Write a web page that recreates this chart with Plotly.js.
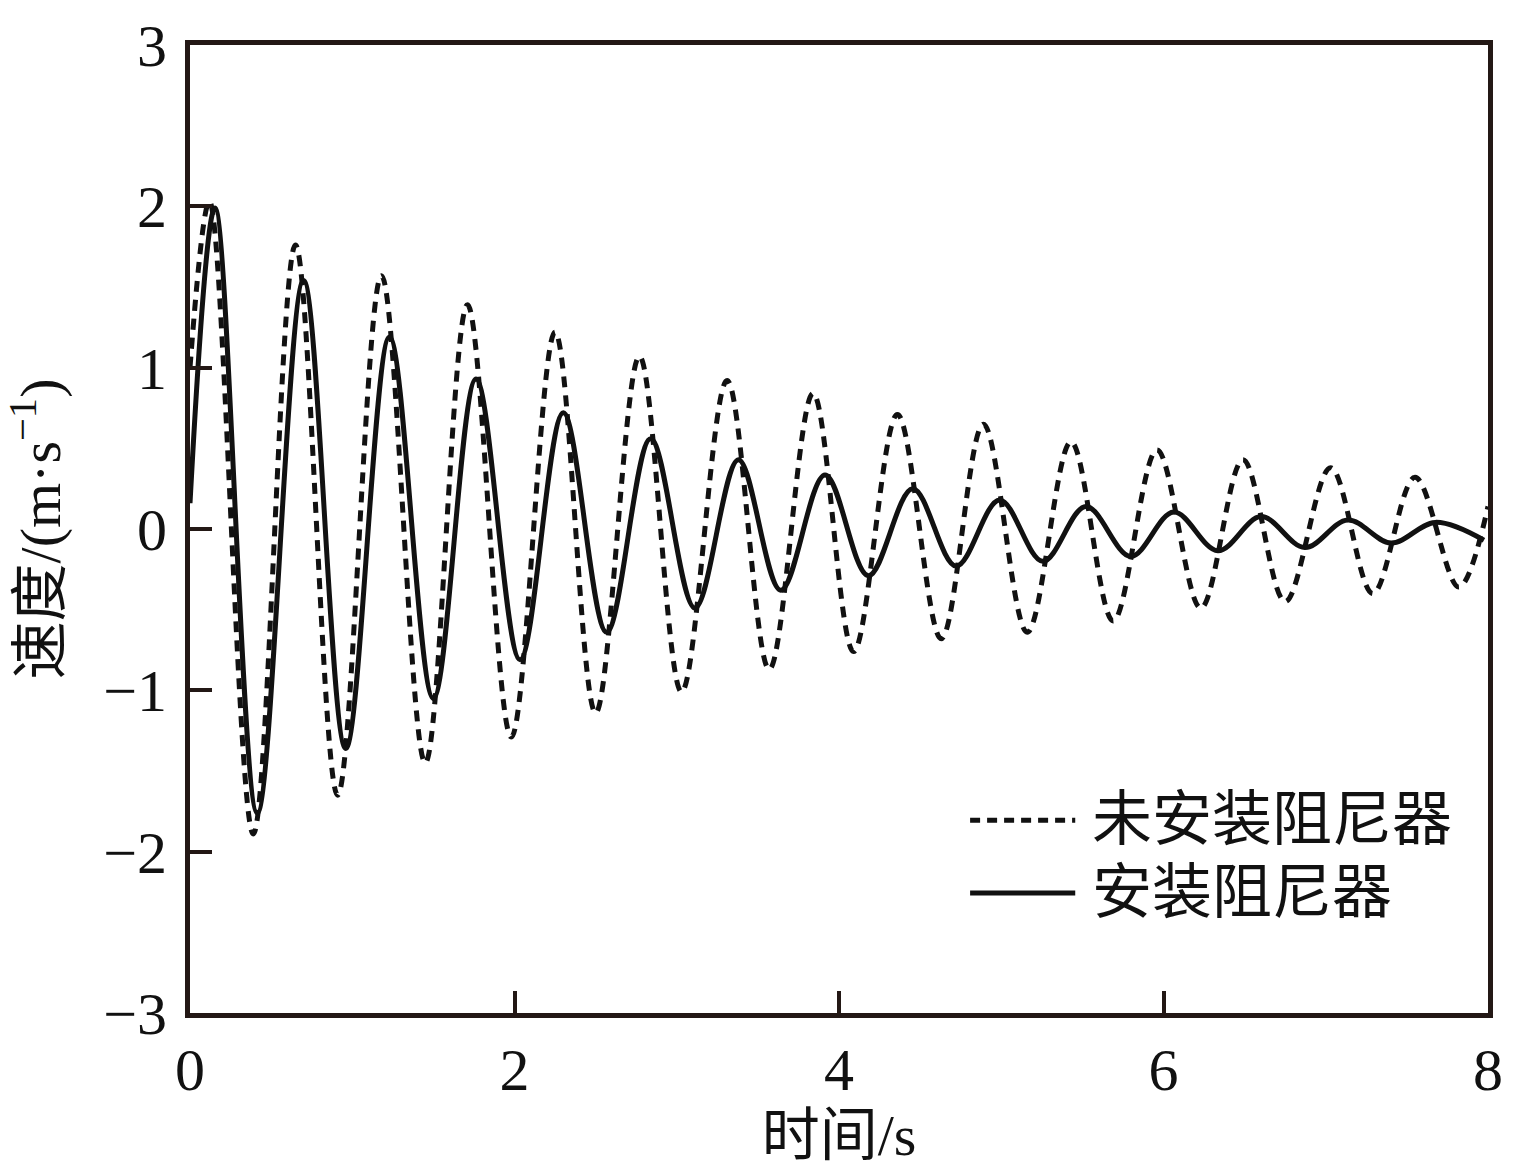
<!DOCTYPE html>
<html>
<head>
<meta charset="utf-8">
<script src="https://cdn.plot.ly/plotly-3.0.1.min.js"></script>
<style>
  html, body { margin: 0; padding: 0; background: #fff; }
  #chart { width: 1529px; height: 1175px; }
</style>
</head>
<body>
<div id="chart"></div>
<script>
// 未安装阻尼器 (dashed): start, then alternating peaks / troughs
const tUndamped = [0, 0.12, 0.39, 0.65, 0.91, 1.18, 1.45, 1.71, 1.98, 2.25, 2.50, 2.77, 3.03, 3.31, 3.57, 3.84, 4.09, 4.36, 4.63, 4.89, 5.16, 5.43, 5.69, 5.96, 6.23, 6.49, 6.75, 7.03, 7.29, 7.55, 7.82, 8.0]
const vUndamped = [1.0, 2.03, -1.89, 1.76, -1.65, 1.57, -1.45, 1.39, -1.29, 1.22, -1.14, 1.07, -1.01, 0.92, -0.87, 0.84, -0.76, 0.71, -0.68, 0.65, -0.64, 0.54, -0.57, 0.49, -0.49, 0.43, -0.45, 0.38, -0.40, 0.32, -0.36, 0.14]

// 安装阻尼器 (solid)
const tDamped = [0, 0.154, 0.415, 0.70, 0.96, 1.23, 1.50, 1.763, 2.034, 2.301, 2.568, 2.839, 3.112, 3.380, 3.641, 3.914, 4.181, 4.454, 4.722, 4.990, 5.256, 5.522, 5.798, 6.063, 6.335, 6.601, 6.871, 7.136, 7.402, 7.675, 7.975]
const vDamped = [0.16, 1.99, -1.76, 1.54, -1.36, 1.19, -1.05, 0.93, -0.81, 0.72, -0.64, 0.56, -0.49, 0.43, -0.38, 0.335, -0.29, 0.25, -0.23, 0.18, -0.20, 0.14, -0.17, 0.105, -0.135, 0.077, -0.115, 0.056, -0.087, 0.041, -0.07]

const legendNames = ['未安装阻尼器', '安装阻尼器']
const xTicks = [0, 2, 4, 6, 8]
const yTicks = [-3, -2, -1, 0, 1, 2, 3]

const ink = '#231815'
const fontFam = '"Liberation Serif", "Times New Roman", "Noto Sans CJK SC", serif'
const cjkFam = '"Liberation Serif", "Noto Sans CJK SC", serif'

var data = [{
  x: tUndamped,
  y: vUndamped,
  type: 'scatter',
  mode: 'lines',
  name: legendNames[0],
  line: { color: '#111', width: 5, dash: '11px,8px', shape: 'spline', smoothing: 1 },
  showlegend: false
}, {
  x: tDamped,
  y: vDamped,
  type: 'scatter',
  mode: 'lines',
  name: legendNames[1],
  line: { color: '#111', width: 5, shape: 'spline', smoothing: 1 },
  showlegend: false
}]

// hand-drawn legend, so the sample lines are as long as in the original
var legendRows = [0.199, 0.124]
var shapes = [
  { type: 'line', xref: 'paper', yref: 'paper', x0: 0.601, x1: 0.682, y0: legendRows[0], y1: legendRows[0],
    line: { color: '#111', width: 5, dash: '10px,7px' } },
  { type: 'line', xref: 'paper', yref: 'paper', x0: 0.601, x1: 0.682, y0: legendRows[1], y1: legendRows[1],
    line: { color: '#111', width: 5 } }
]
var annotations = legendNames.map(function (name, i) {
  return {
    xref: 'paper', yref: 'paper', x: 0.693, y: legendRows[i],
    xanchor: 'left', yanchor: 'middle', showarrow: false,
    text: name, font: { family: cjkFam, size: 60, color: '#111' }
  }
})

var axisCommon = {
  showgrid: false,
  zeroline: false,
  showline: true,
  linecolor: ink,
  linewidth: 5,
  mirror: true,
  ticks: 'inside',
  ticklen: 22,
  tickwidth: 4,
  tickcolor: ink,
  tickfont: { family: fontFam, size: 60, color: '#111' }
}

var layout = {
  width: 1529,
  height: 1175,
  margin: { l: 190, r: 41, t: 45, b: 162 },
  paper_bgcolor: '#fff',
  plot_bgcolor: '#fff',
  xaxis: Object.assign({}, axisCommon, {
    range: [0, 8],
    tickvals: xTicks,
    ticktext: xTicks.map(String),
    title: { text: '时间/s', font: { family: cjkFam, size: 58, color: '#111' }, standoff: 14 }
  }),
  yaxis: Object.assign({}, axisCommon, {
    range: [-3, 3],
    tickvals: yTicks,
    ticklabelstandoff: 6,
    title: { text: '速度/(m·s<sup>−1</sup>)', font: { family: cjkFam, size: 58, color: '#111' }, standoff: 26 }
  }),
  shapes: shapes,
  annotations: annotations,
  showlegend: false
}

Plotly.newPlot('chart', data, layout, { displayModeBar: false, staticPlot: true })
</script>
</body>
</html>
